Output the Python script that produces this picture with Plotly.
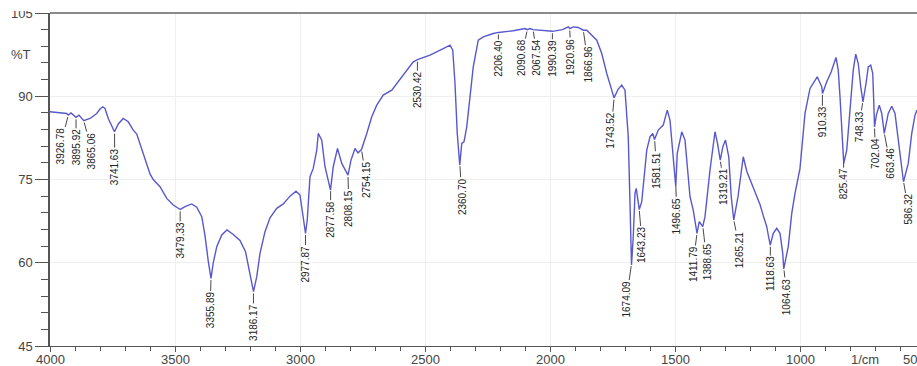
import numpy as np
import plotly.graph_objects as go

# ---- spectrum data (wavenumber in 1/cm, transmittance in %T) ----
wavenumber = [4000, 3960, 3933, 3927, 3916, 3896, 3884, 3865, 3840, 3813,
              3800, 3789, 3780, 3767, 3747, 3742, 3727, 3707, 3687, 3667,
              3653, 3640, 3620, 3600, 3587, 3560, 3533, 3507, 3479, 3460,
              3433, 3413, 3393, 3380, 3367, 3356, 3347, 3333, 3313, 3292,
              3267, 3240, 3218, 3207, 3193, 3186, 3173, 3160, 3140, 3120,
              3093, 3067, 3040, 3016, 3000, 2987, 2978, 2971, 2960, 2947,
              2933, 2927, 2913, 2900, 2878, 2867, 2850, 2833, 2808, 2796,
              2780, 2768, 2754, 2733, 2713, 2693, 2667, 2633, 2613, 2580,
              2547, 2530, 2480, 2427, 2400, 2389, 2380, 2371, 2361, 2353,
              2344, 2333, 2320, 2307, 2287, 2267, 2227, 2206, 2147, 2100,
              2091, 2080, 2068, 2040, 1990, 1950, 1927, 1921, 1907, 1887,
              1867, 1853, 1840, 1813, 1793, 1773, 1753, 1744, 1727, 1713,
              1700, 1687, 1680, 1674, 1667, 1660, 1655, 1647, 1643, 1633,
              1620, 1613, 1600, 1589, 1582, 1567, 1547, 1531, 1520, 1509,
              1497, 1491, 1473, 1460, 1451, 1440, 1427, 1412, 1403, 1389,
              1380, 1360, 1340, 1330, 1319, 1308, 1298, 1285, 1275, 1265,
              1248, 1227, 1213, 1200, 1173, 1160, 1147, 1133, 1127, 1119,
              1107, 1093, 1080, 1069, 1065, 1047, 1033, 1020, 1000, 980,
              960, 940, 931, 913, 910, 893, 875, 856, 847, 840,
              829, 825, 813, 800, 787, 777, 767, 757, 748, 736,
              727, 717, 709, 705, 702, 695, 683, 673, 663, 647,
              633, 620, 607, 593, 586, 567, 553, 540, 532]

transmittance = [87.2, 87.1, 86.9, 86.6, 87.0, 86.2, 86.6, 85.6, 86.0, 86.9,
                 87.7, 88.1, 87.8, 86.0, 84.0, 83.6, 85.0, 86.0, 85.4, 83.9,
                 83.2, 81.5, 78.5, 76.0, 75.0, 73.7, 71.6, 70.4, 69.6, 70.1,
                 70.6, 70.0, 68.3, 64.9, 60.3, 57.2, 60.0, 62.9, 65.0, 65.9,
                 65.1, 64.0, 62.0, 59.5, 56.0, 54.8, 57.5, 61.7, 65.6, 68.1,
                 69.8, 70.6, 72.0, 72.9, 72.2, 68.0, 65.3, 67.7, 75.5, 77.0,
                 80.3, 83.3, 82.1, 77.3, 73.1, 77.3, 80.6, 77.9, 75.8, 78.5,
                 80.6, 79.8, 80.4, 83.3, 86.3, 88.4, 90.2, 91.1, 92.3, 94.1,
                 96.2, 96.6, 97.4, 98.6, 99.2, 98.3, 92.3, 83.3, 77.6, 81.5,
                 81.8, 84.5, 89.9, 95.3, 100.1, 100.7, 101.3, 101.5, 101.8, 102.2,
                 102.0, 102.2, 102.0, 101.9, 101.7, 102.0, 102.5, 102.2, 102.5, 102.4,
                 101.9, 101.9, 101.3, 100.1, 97.7, 94.1, 91.1, 89.7, 91.3, 92.0,
                 91.1, 82.7, 70.7, 59.6, 64.7, 72.5, 73.4, 71.3, 69.6, 71.0,
                 76.7, 80.3, 82.7, 83.3, 82.2, 83.9, 84.8, 87.5, 85.7, 79.7,
                 73.7, 79.7, 83.6, 82.1, 76.7, 71.9, 69.5, 65.3, 67.4, 66.5,
                 68.3, 76.7, 83.6, 81.5, 78.5, 81.0, 82.1, 79.1, 71.9, 67.7,
                 71.9, 79.1, 76.5, 75.0, 71.8, 70.5, 68.5, 66.5, 65.0, 63.2,
                 65.3, 66.2, 65.3, 61.7, 58.9, 62.9, 68.9, 72.5, 77.0, 86.9,
                 91.4, 92.9, 93.5, 91.7, 90.5, 92.6, 94.4, 97.0, 94.7, 89.9,
                 82.1, 77.9, 80.3, 88.1, 94.7, 97.6, 95.9, 91.7, 89.0, 92.3,
                 95.3, 95.6, 94.1, 89.0, 84.5, 86.5, 88.4, 86.9, 83.3, 86.9,
                 88.2, 86.9, 82.1, 77.3, 74.6, 77.9, 83.3, 86.6, 87.5]

# ---- peak labels ----
peak_labels = ["3926.78", "3895.92", "3865.06", "3741.63", "3479.33", "3355.89",
               "3186.17", "2977.87", "2877.58", "2808.15", "2754.15", "2530.42",
               "2360.70", "2206.40", "2090.68", "2067.54", "1990.39", "1920.96",
               "1866.96", "1743.52", "1674.09", "1643.23", "1581.51", "1496.65",
               "1411.79", "1388.65", "1319.21", "1265.21", "1118.63", "1064.63",
               "910.33", "825.47", "748.33", "702.04", "663.46", "586.32"]

# label text offsets (pixels) relative to the peak point
label_dx = [-8, 0, 8, 0, 0, -1, 0, 0, 0, 1, 5, 0,
            2, 0, -6, 4, 0, 1, 5, -3, -5, 3, 2, 1,
            -4, 4, 4, 6, 0, 3, 0, 0, -4, 1, 6, 5]
label_dy = [31, 30, 30, 35, 31, 32, 31, 31, 30, 33, 30, 30,
            32, 26, 28, 28, 27, 28, 34, 33, 35, 36, 31, 31,
            31, 35, 27, 30, 29, 28, 29, 23, 25, 27, 31, 28]

# ---- axis ticks ----
x_ticks = [4000, 3500, 3000, 2500, 2000, 1500, 1000]
y_ticks = [45, 60, 75, 90, 105]

wn_arr = np.array(wavenumber, dtype=float)
t_arr = np.array(transmittance, dtype=float)
order = np.argsort(wn_arr)

fig = go.Figure()
fig.add_trace(go.Scatter(
    x=wavenumber, y=transmittance, mode="lines",
    line=dict(color="rgb(88,88,205)", width=1.4),
    hoverinfo="skip", showlegend=False))

lab_font = dict(family="Liberation Sans, Arial, sans-serif", size=10, color="#222")
annotations = []
for lab, dx, dy in zip(peak_labels, label_dx, label_dy):
    w = float(lab)
    t = float(np.interp(w, wn_arr[order], t_arr[order]))
    annotations.append(dict(
        x=w, y=t, xref="x", yref="y", text=lab, textangle=-90,
        showarrow=True, arrowhead=0, arrowwidth=0.9, arrowcolor="#333",
        ax=dx, ay=dy, standoff=2, borderpad=0, font=lab_font))

W, H = 917, 366
ML, MT, MB = 50, 13, 20
PW = W - ML
PH = H - MT - MB
XLAB_Y = -(13.5 / PH)   # x tick label row, just below the axis

tick_font = dict(family="Liberation Sans, Arial, sans-serif", size=13, color="#444")
for v in x_ticks:
    annotations.append(dict(xref="x", yref="paper", x=v, y=XLAB_Y, text=str(v),
                            showarrow=False, xanchor="center", yanchor="middle",
                            font=tick_font))
annotations += [
    dict(xref="paper", yref="paper", x=(33 - ML) / PW, y=(MT + PH - 54) / PH,
         text="%T", showarrow=False, xanchor="right", yanchor="middle", font=tick_font),
    dict(xref="paper", yref="paper", x=(865 - ML) / PW, y=XLAB_Y,
         text="1/cm", showarrow=False, xanchor="center", yanchor="middle", font=tick_font),
    dict(xref="paper", yref="paper", x=(901 - ML) / PW, y=XLAB_Y,
         text="500", showarrow=False, xanchor="left", yanchor="middle", font=tick_font),
]

fig.update_layout(
    template="none",
    width=W, height=H,
    margin=dict(l=ML, r=0, t=MT, b=MB, pad=0),
    paper_bgcolor="white", plot_bgcolor="white",
    showlegend=False,
    annotations=annotations,
    shapes=[
        dict(type="line", xref="paper", yref="paper", x0=0, x1=1, y0=1, y1=1,
             line=dict(color="#8a8a8a", width=2), layer="above"),
        dict(type="rect", xref="paper", yref="paper",
             x0=-ML / PW, x1=-3 / PW, y0=1 + 2 / PH, y1=1 + MT / PH,
             fillcolor="white", line=dict(width=0), layer="above"),
    ],
    xaxis=dict(
        range=[4000, 4000 - PW * 4], autorange=False,
        tickvals=x_ticks, showticklabels=False,
        ticks="outside", ticklen=5, tickcolor="#555", tickwidth=1,
        minor=dict(dtick=100, tick0=0, ticks="outside", ticklen=4,
                   tickcolor="#555", showgrid=False),
        showline=True, linecolor="#555", linewidth=1.2,
        showgrid=True, gridcolor="#efefef", gridwidth=1,
        zeroline=False, automargin=False),
    yaxis=dict(
        range=[45, 105], autorange=False,
        tickvals=y_ticks, ticktext=[str(v) for v in y_ticks],
        ticks="outside", ticklen=13, tickcolor="#555", tickwidth=1,
        minor=dict(dtick=3, tick0=45, ticks="outside", ticklen=7,
                   tickcolor="#555", showgrid=False),
        showline=True, linecolor="#555", linewidth=1.5,
        showgrid=True, gridcolor="#efefef", gridwidth=1,
        zeroline=False, automargin=False, tickfont=tick_font),
)

fig.write_html("out.html",
               config={"displayModeBar": False},
               post_script="document.body.style.margin='0';document.body.style.overflow='hidden';")
